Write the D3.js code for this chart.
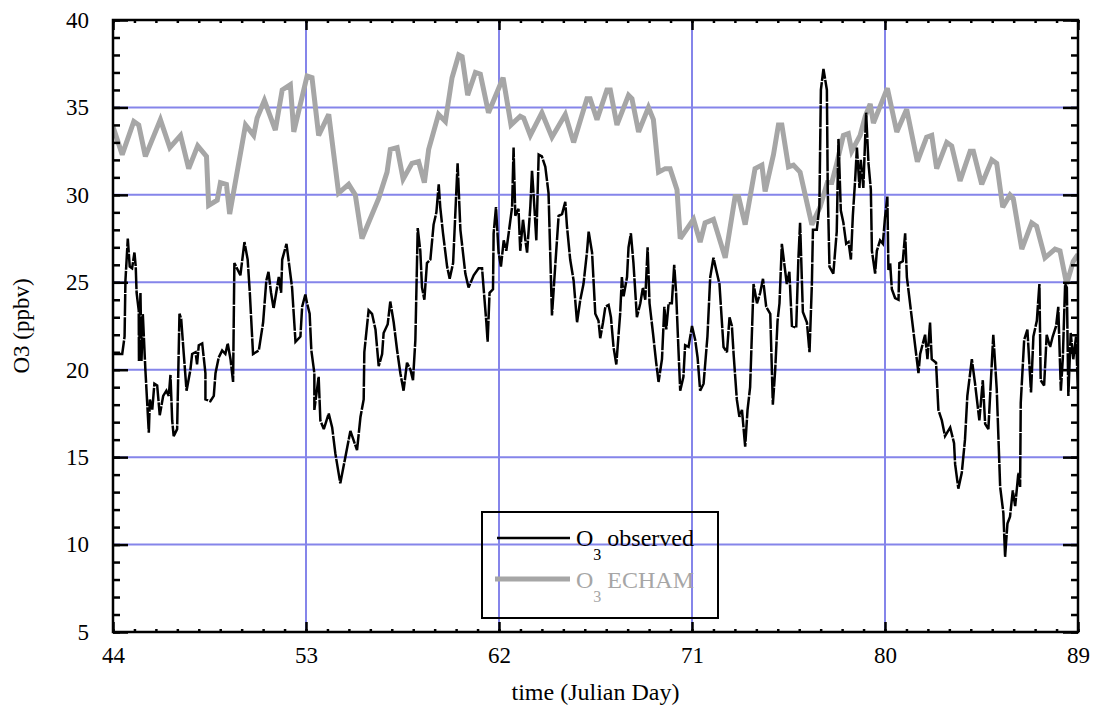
<!DOCTYPE html>
<html>
<head>
<meta charset="utf-8">
<script src="https://cdn.jsdelivr.net/npm/d3@7"></script>
<style>
  body { margin: 0; background: #fff; }
  svg { display: block; }
  text { font-family: "Liberation Serif", "Times New Roman", serif; }
</style>
</head>
<body>
<svg id="chart" width="1095" height="713"></svg>
<script>
// Observed surface ozone (ppbv) by Julian day
const obsDay = [
  44.04,44.43,44.54,44.58,44.69,44.78,44.89,45.00,45.06,45.10,
  45.20,45.21,45.28,45.33,45.39,45.51,45.67,45.72,45.83,45.93,
  46.06,46.18,46.34,46.49,46.60,46.68,46.76,46.83,46.99,47.10,
  47.18,47.30,47.43,47.61,47.69,47.85,47.92,48.00,48.16,48.31,
  48.31,48.54,48.70,48.78,48.93,49.09,49.24,49.35,49.48,49.60,
  49.66,49.94,50.13,50.28,50.38,50.53,50.80,51.00,51.15,51.25,
  51.37,51.49,51.61,51.73,51.84,51.89,52.09,52.35,52.51,52.74,
  52.82,52.97,53.05,53.17,53.25,53.39,53.39,53.59,53.67,53.83,
  54.06,54.22,54.37,54.60,55.07,55.38,55.54,55.69,55.72,55.92,
  56.08,56.24,56.39,56.55,56.62,56.81,56.93,57.09,57.25,57.40,
  57.55,57.71,57.87,57.99,58.10,58.21,58.33,58.41,58.52,58.64,
  58.80,58.95,59.08,59.19,59.26,59.39,59.58,59.70,59.86,60.01,
  60.07,60.20,60.43,60.58,60.82,61.05,61.21,61.28,61.41,61.47,
  61.56,61.72,61.75,61.86,61.98,62.09,62.22,62.34,62.45,62.61,
  62.68,62.76,62.91,62.99,63.12,63.23,63.31,63.46,63.54,63.65,
  63.74,63.85,64.00,64.16,64.31,64.47,64.62,64.78,64.94,65.09,
  65.17,65.32,65.48,65.64,65.79,65.94,66.10,66.18,66.34,66.49,
  66.64,66.72,66.85,66.96,67.11,67.22,67.34,67.47,67.65,67.73,
  67.81,67.97,68.04,68.15,68.27,68.43,68.59,68.71,68.82,68.93,
  69.02,69.18,69.33,69.44,69.60,69.71,69.80,69.91,70.06,70.17,
  70.26,70.37,70.45,70.60,70.68,70.84,71.00,71.15,71.26,71.38,
  71.54,71.72,71.85,72.00,72.13,72.28,72.47,72.63,72.75,72.86,
  72.94,73.09,73.21,73.33,73.48,73.59,73.71,73.87,74.03,74.18,
  74.31,74.46,74.65,74.77,74.88,74.99,75.08,75.19,75.30,75.42,
  75.54,75.66,75.86,75.96,76.04,76.17,76.36,76.48,76.59,76.64,
  76.82,76.94,77.01,77.13,77.29,77.33,77.41,77.59,77.75,77.83,
  77.94,78.06,78.19,78.30,78.41,78.50,78.61,78.69,78.81,78.87,
  78.99,79.12,79.23,79.34,79.39,79.54,79.62,79.77,79.90,80.00,
  80.11,80.16,80.24,80.32,80.47,80.63,80.67,80.83,80.94,81.02,
  81.56,81.64,81.87,81.98,82.10,82.18,82.38,82.49,82.65,82.80,
  83.04,83.22,83.27,83.42,83.58,83.73,83.84,84.05,84.20,84.40,
  84.56,84.67,84.82,85.05,85.21,85.37,85.52,85.60,85.71,85.83,
  85.96,86.07,86.22,86.30,86.33,86.49,86.64,86.81,86.92,87.08,
  87.20,87.26,87.42,87.54,87.70,87.82,87.98,88.08,88.20,88.29,
  88.40,88.48,88.55,88.66,88.78,88.91,89.00
];
const obsO3 = [
  20.9,20.9,21.9,25.1,27.5,25.9,25.8,26.7,25.9,24.4,
  23.4,20.5,24.4,20.5,23.2,20.0,16.4,18.3,17.7,19.2,
  19.1,17.4,18.5,18.8,18.5,19.7,17.1,16.2,16.6,23.2,
  22.9,20.9,18.8,20.0,20.9,21.0,20.3,21.4,21.5,19.8,
  18.3,18.2,18.5,19.8,20.7,21.1,20.9,21.5,20.6,19.3,
  26.1,25.4,27.3,26.3,24.4,20.9,21.1,22.7,25.1,25.6,
  24.4,23.5,24.4,25.3,24.4,26.3,27.2,24.7,21.6,21.9,
  23.6,24.3,23.8,23.2,21.1,19.8,17.7,19.6,17.1,16.6,
  17.5,16.7,15.2,13.5,16.5,15.4,17.3,18.3,21.0,23.4,
  23.2,22.3,20.2,20.9,22.1,22.6,23.9,22.7,21.1,19.8,
  18.8,20.4,20.0,19.4,21.7,28.1,26.8,24.7,24.0,26.1,
  26.3,28.3,29.0,30.6,29.3,27.8,25.9,25.2,26.1,30.2,
  31.8,28.0,25.5,24.7,25.4,25.8,25.8,24.7,22.7,21.6,
  24.4,24.6,27.8,29.3,26.7,25.9,27.4,26.8,27.8,29.3,
  32.7,28.8,29.2,26.8,28.6,27.4,26.7,29.3,31.4,29.3,
  27.4,32.3,32.2,31.6,30.1,23.1,25.9,28.8,28.9,29.6,
  28.2,26.3,25.1,22.7,24.0,24.9,26.7,27.9,26.7,23.2,
  22.8,21.8,22.7,23.6,23.7,23.0,21.3,20.3,23.2,25.3,
  24.2,25.3,27.0,27.8,26.1,23.0,23.8,24.7,24.0,27.0,
  23.8,22.1,20.4,19.3,20.6,23.6,22.3,23.8,23.8,26.0,
  24.4,21.1,18.8,19.6,21.4,21.3,22.5,21.7,20.7,18.8,
  19.2,21.9,25.3,26.4,25.7,24.9,21.3,21.0,23.0,22.5,
  20.9,18.3,17.3,17.7,15.6,17.7,19.0,24.9,23.8,24.4,
  25.2,23.6,23.2,18.0,20.0,22.8,23.8,27.2,26.1,24.9,
  25.6,22.5,22.4,26.3,28.4,23.3,22.7,21.0,24.9,28.0,
  28.0,29.3,36.0,37.2,36.0,30.3,25.9,25.5,27.9,33.2,
  29.1,28.4,27.2,27.3,26.3,28.8,30.9,32.7,30.4,32.0,
  30.4,34.7,31.8,30.3,26.8,25.5,26.8,27.4,27.2,28.7,
  29.9,25.7,26.1,24.6,24.1,24.0,26.1,26.2,27.8,25.3,
  19.8,20.9,22.0,20.6,22.7,20.6,20.4,17.7,17.1,16.2,
  16.7,15.8,14.6,13.2,14.1,16.0,18.5,20.6,19.2,17.1,
  19.4,16.9,16.6,22.0,18.9,13.3,11.8,9.3,11.2,11.6,
  13.1,12.2,14.1,13.3,18.1,21.7,22.3,18.7,21.9,22.8,
  24.9,19.4,19.1,22.0,21.3,21.9,22.5,23.6,18.8,20.6,
  24.9,24.7,18.5,22.1,20.6,21.9,18.8
];

// ECHAM model ozone (ppbv)
const echamDay = [
  44.00,44.43,44.97,45.20,45.51,46.21,46.65,47.15,47.53,47.95,
  48.36,48.46,48.86,49.01,49.29,49.44,50.18,50.56,50.72,51.06,
  51.57,51.89,52.27,52.43,53.05,53.28,53.59,54.06,54.52,54.99,
  55.30,55.61,56.39,56.78,56.93,57.25,57.53,57.94,58.25,58.52,
  58.72,59.18,59.50,59.81,60.12,60.28,60.54,60.90,61.13,61.51,
  62.19,62.56,62.99,63.15,63.46,64.00,64.47,65.09,65.48,66.10,
  66.25,66.57,67.03,67.19,67.50,68.04,68.20,68.51,68.97,69.20,
  69.44,69.75,69.98,70.30,70.45,71.07,71.38,71.61,72.00,72.55,
  73.01,73.17,73.48,73.94,74.26,74.41,74.80,75.03,75.19,75.50,
  75.73,76.04,76.59,76.97,77.31,77.52,77.75,78.06,78.29,78.45,
  78.84,79.08,79.31,79.46,80.11,80.55,81.01,81.51,81.94,82.18,
  82.41,82.88,83.11,83.50,83.97,84.12,84.51,84.98,85.21,85.49,
  85.83,85.98,86.38,86.84,87.07,87.46,87.93,88.16,88.47,88.78,
  89.00
];
const echamO3 = [
  33.9,32.3,34.2,34.0,32.2,34.3,32.7,33.4,31.5,32.8,
  32.2,29.4,29.7,30.7,30.6,28.9,34.0,33.4,34.4,35.4,
  33.7,36.0,36.3,33.6,36.8,36.7,33.4,34.6,30.1,30.6,
  30.0,27.5,29.8,31.3,32.6,32.7,30.9,31.8,31.9,30.7,
  32.6,34.6,34.2,36.7,38.0,37.9,35.7,37.0,36.9,34.7,
  36.7,34.0,34.5,34.4,33.4,34.7,33.3,34.6,33.0,35.5,
  35.5,34.3,36.0,36.0,34.0,35.7,35.5,33.6,35.0,34.3,
  31.3,31.5,31.5,30.3,27.5,28.6,27.3,28.4,28.6,26.4,
  29.9,29.9,28.3,31.5,31.7,30.2,32.3,34.0,34.0,31.6,
  31.7,31.3,28.3,29.3,30.7,30.7,31.8,33.4,33.5,32.5,
  33.4,34.5,35.2,34.1,36.1,33.6,34.9,31.9,33.3,33.4,
  31.5,33.0,32.8,30.8,32.5,32.5,30.6,32.0,31.8,29.3,
  30.0,29.8,26.9,28.4,28.2,26.4,26.9,26.8,24.9,26.2,
  26.6
];

const xTicks = [44, 53, 62, 71, 80, 89];
const yTicks = [5, 10, 15, 20, 25, 30, 35, 40];
const legendLabels = ["observed", "ECHAM"];
const xTitle = "time (Julian Day)";
const yTitle = "O3 (ppbv)";

const svg = d3.select("#chart");
const plot = { left: 113, right: 1078, top: 20, bottom: 632 };

const x = d3.scaleLinear().domain([44, 89]).range([plot.left, plot.right]);
const y = d3.scaleLinear().domain([5, 40]).range([plot.bottom, plot.top]);

const gridColor = "#8585ea";
const grayColor = "#a6a6a6";

// Grid lines
const grid = svg.append("g");
grid.selectAll("line.v").data(xTicks.slice(1, -1)).join("line")
  .attr("x1", d => x(d)).attr("x2", d => x(d))
  .attr("y1", plot.top).attr("y2", plot.bottom)
  .attr("stroke", gridColor).attr("stroke-width", 2);
grid.selectAll("line.h").data(yTicks.slice(1, -1)).join("line")
  .attr("x1", plot.left).attr("x2", plot.right)
  .attr("y1", d => y(d)).attr("y2", d => y(d))
  .attr("stroke", gridColor).attr("stroke-width", 2);

// Series
svg.append("clipPath").attr("id", "plotclip")
  .append("rect")
  .attr("x", plot.left).attr("y", plot.top)
  .attr("width", plot.right - plot.left).attr("height", plot.bottom - plot.top);

const echam = echamDay.map((d, i) => [d, echamO3[i]]);
const obs = obsDay.map((d, i) => [d, obsO3[i]]);
const line = d3.line().x(d => x(d[0])).y(d => y(d[1]));

const series = svg.append("g").attr("clip-path", "url(#plotclip)");
series.append("path").datum(echam)
  .attr("d", line).attr("fill", "none")
  .attr("stroke", grayColor).attr("stroke-width", 5)
  .attr("stroke-linejoin", "miter").attr("stroke-miterlimit", 3);
series.append("path").datum(obs)
  .attr("d", line).attr("fill", "none")
  .attr("stroke", "#000").attr("stroke-width", 2.5)
  .attr("stroke-dasharray", "22,1.2")
  .attr("stroke-linejoin", "miter").attr("stroke-miterlimit", 3);

// Axes: inward ticks on all four sides
const minorX = d3.range(44, 90, 1);
const minorY = d3.range(5, 41, 1);
const fontSize = 23;

function styleAxis(g) {
  g.select(".domain").remove();
  g.selectAll(".tick line").attr("stroke", "#000").attr("stroke-width", 2.5);
  g.selectAll(".tick text")
    .attr("font-family", '"Liberation Serif", "Times New Roman", serif')
    .attr("font-size", fontSize).attr("fill", "#000");
}

svg.append("g").attr("transform", `translate(0,${plot.bottom})`)
  .call(d3.axisBottom(x).tickValues(minorX).tickSize(-3).tickFormat(""))
  .call(styleAxis);
svg.append("g").attr("transform", `translate(0,${plot.bottom})`)
  .call(d3.axisBottom(x).tickValues(xTicks).tickSize(-10).tickPadding(15).tickFormat(d3.format("d")))
  .call(styleAxis);
svg.append("g").attr("transform", `translate(0,${plot.top})`)
  .call(d3.axisTop(x).tickValues(minorX).tickSize(-3).tickFormat(""))
  .call(styleAxis);
svg.append("g").attr("transform", `translate(0,${plot.top})`)
  .call(d3.axisTop(x).tickValues(xTicks).tickSize(-10).tickFormat(""))
  .call(styleAxis);

svg.append("g").attr("transform", `translate(${plot.left},0)`)
  .call(d3.axisLeft(y).tickValues(minorY).tickSize(-7).tickFormat(""))
  .call(styleAxis);
svg.append("g").attr("transform", `translate(${plot.left},0)`)
  .call(d3.axisLeft(y).tickValues(yTicks).tickSize(-15).tickPadding(24).tickFormat(d3.format("d")))
  .call(styleAxis);
svg.append("g").attr("transform", `translate(${plot.right},0)`)
  .call(d3.axisRight(y).tickValues(minorY).tickSize(-7).tickFormat(""))
  .call(styleAxis);
svg.append("g").attr("transform", `translate(${plot.right},0)`)
  .call(d3.axisRight(y).tickValues(yTicks).tickSize(-15).tickFormat(""))
  .call(styleAxis);

// Frame
svg.append("rect")
  .attr("x", plot.left).attr("y", plot.top)
  .attr("width", plot.right - plot.left).attr("height", plot.bottom - plot.top)
  .attr("fill", "none").attr("stroke", "#000").attr("stroke-width", 2.5);

// Axis titles
svg.append("text")
  .attr("x", (plot.left + plot.right) / 2).attr("y", 700)
  .attr("text-anchor", "middle").attr("font-size", 24)
  .text(xTitle);
svg.append("text")
  .attr("transform", `translate(29,${(plot.top + plot.bottom) / 2}) rotate(-90)`)
  .attr("text-anchor", "middle").attr("font-size", 23)
  .text(yTitle);

// Legend
const legend = svg.append("g");
legend.append("rect")
  .attr("x", 482).attr("y", 512).attr("width", 236).attr("height", 106)
  .attr("fill", "none").attr("stroke", "#000").attr("stroke-width", 2);

const legendItems = [
  { label: legendLabels[0], color: "#000", width: 2.5, x1: 497, ly: 538, ty: 546 },
  { label: legendLabels[1], color: grayColor, width: 5, x1: 495, ly: 579, ty: 588 }
];
legendItems.forEach(it => {
  legend.append("line")
    .attr("x1", it.x1).attr("x2", 570)
    .attr("y1", it.ly).attr("y2", it.ly)
    .attr("stroke", it.color).attr("stroke-width", it.width);
  const t = legend.append("text")
    .attr("x", 576).attr("y", it.ty)
    .attr("font-size", 24).attr("fill", it.color);
  t.append("tspan").text("O");
  t.append("tspan").attr("dy", 14).attr("font-size", 16).text("3");
  t.append("tspan").attr("dy", -14).text(" " + it.label);
});
</script>
</body>
</html>
